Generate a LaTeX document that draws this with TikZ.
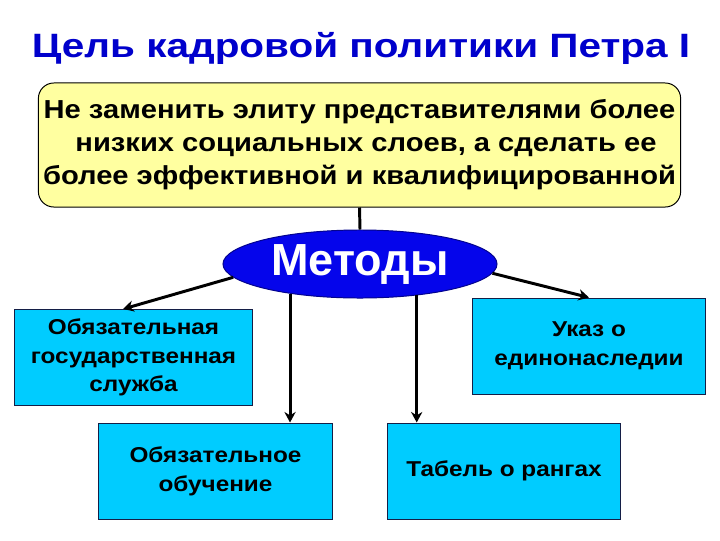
\documentclass[tikz,border=0pt]{standalone}
\usepackage{fontspec}
\setmainfont{Liberation Sans}
\newfontfamily\titlefont[FakeStretch=1.2]{Liberation Sans}
\newfontfamily\goalfont[FakeStretch=1.12]{Liberation Sans}
\newfontfamily\boxfont[FakeStretch=1.13]{Liberation Sans}
\usepackage{tikz}
\usetikzlibrary{shapes.geometric, arrows.meta}
\definecolor{titleblue}{RGB}{0,0,204}
\definecolor{goalyellow}{RGB}{255,255,160}
\definecolor{methblue}{RGB}{5,5,235}
\definecolor{boxcyan}{RGB}{0,204,255}
\definecolor{boxedge}{RGB}{20,30,70}

\begin{document}
\begin{tikzpicture}[x=0.025cm, y=-0.025cm,
    box/.style={draw=boxedge, line width=0.7pt, fill=boxcyan, minimum height=2.4cm,
                align=center, inner sep=2pt, font=\boxfont\fontsize{15.3}{20.5}\selectfont\bfseries},
    arrow/.style={-{Stealth[length=7.5pt, width=8pt]}, line width=2.1pt}
  ]
    \useasboundingbox[fill=white] (0,0) rectangle (720,540);

    \node[text=titleblue, font=\titlefont\fontsize{24}{28}\selectfont\bfseries] (title) at (361,48)
      {Цель кадровой политики Петра I};

    \node[draw, line width=0.7pt, fill=goalyellow, rounded corners=11pt,
          minimum width=16cm, minimum height=3.1cm, align=center,
          font=\goalfont\fontsize{18.5}{23.5}\selectfont\bfseries] (goal) at (359.5,145)
      {Не заменить элиту представителями более\\
       \hspace*{0.5em}низких социальных слоев, а сделать ее\\
       более эффективной и квалифицированной};

    \node[ellipse, draw=methblue!60!black, line width=0.7pt, fill=methblue, text=white,
          minimum width=6.85cm, minimum height=1.7cm, inner sep=0pt,
          font=\fontsize{32}{36}\selectfont\bfseries] (meth) at (360,264) {Методы};

    \node[box, minimum width=5.93cm] (sluzhba) at (133.5,357.5)
      {Обязательная\\государственная\\служба};
    \node[box, minimum width=5.8cm] (ukaz) at (589,346)
      {Указ о\\единонаследии};
    \node[box, minimum width=5.83cm] (obuch) at (215.5,471)
      {Обязательное\\обучение};
    \node[box, minimum width=5.8cm] (tabel) at (504,471)
      {Табель о рангах};

    \draw[line width=2.1pt] (goal.south) -- (meth.north);
    \draw[arrow] (meth.186) -- ([xshift=-0.26cm]sluzhba.north);
    \draw[arrow] (meth.356) -- (ukaz.north);
    \draw[arrow] (meth.203.5) -- (meth.203.5 |- obuch.north);
    \draw[arrow] (meth.331.5) -- (meth.331.5 |- tabel.north);
  \end{tikzpicture}
\end{document}
